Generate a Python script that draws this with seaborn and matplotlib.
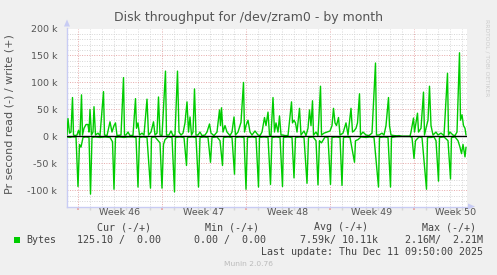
import numpy as np
import pandas as pd
import seaborn as sns
import matplotlib
matplotlib.use("Agg")
import matplotlib.pyplot as plt
from matplotlib.patches import Rectangle, Polygon
from matplotlib.ticker import FixedLocator
import matplotlib.transforms as mtransforms

# ---------------- data (hours since window start, values in k bytes/s) ----------------
write_hours = [0, 2, 5, 8, 11, 13, 16, 20, 23, 26, 29, 31, 34, 38, 42, 44, 46, 49, 52, 54, 57, 62, 66,
               73, 75, 80, 86, 90, 94, 97, 100, 104, 108, 113, 115, 118, 122, 126, 132, 137, 139, 142,
               145, 150, 154, 160, 163, 168, 173, 176, 180, 183, 186, 190, 197, 199, 204, 208, 212, 216,
               221, 224, 228, 232, 236, 240, 243, 246, 249, 252, 255, 258, 262, 266, 270, 276, 280, 285,
               288, 294, 300, 305, 307, 309, 312, 316, 320, 326, 330, 334, 337, 342, 348, 353, 355, 358,
               362, 366, 370, 376, 382, 386, 390, 395, 398, 402, 405, 408, 412, 415, 418, 422, 425, 428,
               432, 436, 442, 449, 451, 454, 457, 460, 465, 468, 474, 478, 482, 485, 488, 491, 493, 498,
               502, 507, 509, 514, 520, 526, 530, 533, 536, 539, 543, 546, 552, 558, 562, 568, 571, 574,
               578, 581, 585, 587, 592, 598, 604, 610, 617, 619, 624, 630, 634, 638, 643, 645, 648, 654,
               660, 664, 670, 678, 686, 688, 693, 695, 697, 701, 703, 708, 713, 715, 718, 722, 725, 728,
               732, 738, 742, 748, 754, 761, 763, 766, 772, 776, 780, 785, 787, 790, 793, 796, 798]
write_k = [2.5, 33, 6, 8, 72, 2.5, 1.5, 2.5, 11, 2, 77, 2.5, 15, 22, 22, 8, 50, 2.5, 8, 55, 2.5, 6, 1.5,
           83, 2.5, 1.5, 27, 8, 20, 25, 1.5, 2, 2.5, 109, 2.5, 2.5, 8, 1.5, 2, 70, 15, 25,
           2.5, 6, 2.5, 69, 2.5, 8, 27, 2.5, 6, 73, 2.5, 1.5, 121, 2.5, 2.5, 10, 1.5, 2.5,
           121, 8, 2.5, 6, 25, 64, 8, 36, 2.5, 8, 88, 2.5, 2.5, 8, 1.5, 2.5, 8, 23,
           6, 1.5, 8, 49, 20, 53, 8, 20, 8, 1.5, 8, 36, 2.5, 8, 26, 100, 8, 20,
           30, 8, 2.5, 10, 2.5, 1.5, 8, 35, 20, 45, 2.5, 1.5, 72, 8, 25, 8, 38, 2.5,
           2.5, 1.5, 1.5, 64, 25, 30, 25, 8, 52, 2.5, 10, 1.5, 15, 49, 20, 66, 2.5, 8,
           1.5, 93, 2.5, 6, 8, 10, 20, 52, 25, 20, 35, 2.5, 6, 25, 2.5, 52, 8, 10,
           15, 25, 79, 2.5, 8, 2.5, 1.5, 6, 136, 2.5, 2.5, 6, 2.5, 20, 72, 20, 2.5, 1.5,
           1, 1.5, 0, 0, 0, 8, 34, 8, 20, 43, 8, 15, 82, 2.5, 15, 30, 93, 20,
           2.5, 8, 2.5, 6, 1.5, 117, 2.5, 8, 2.5, 1.5, 8, 155, 30, 40, 20, 15, 2.5]

read_hours = [0, 6, 10, 18, 22, 25, 28, 32, 38, 44, 47, 50, 56, 66, 76, 86, 91, 94, 97, 104, 114, 122,
              132, 138, 142, 145, 152, 160, 167, 169, 176, 186, 190, 193, 196, 202, 210, 215, 217, 226,
              234, 239, 241, 250, 258, 263, 266, 274, 282, 287, 290, 300, 306, 311, 313, 322, 330, 335,
              337, 346, 354, 358, 361, 370, 378, 383, 385, 394, 402, 407, 410, 418, 426, 431, 433, 442,
              450, 454, 457, 466, 474, 480, 483, 492, 498, 502, 505, 509, 516, 522, 527, 530, 538, 546,
              550, 553, 560, 566, 575, 577, 582, 588, 598, 606, 614, 623, 625, 634, 642, 647, 649, 658,
              670, 686, 690, 694, 697, 704, 710, 719, 721, 728, 734, 738, 743, 745, 754, 762, 767, 769,
              776, 782, 786, 789, 792, 796, 798]
read_k = [1, 2, 1, 1, 93, 15, 20, 2, 1, 2, 107, 2, 1, 2, 1, 2, 10, 98, 2, 1, 2, 1,
          1, 2, 94, 2, 1, 2, 96, 2, 1, 12, 96, 15, 6, 1, 2, 103, 2, 1,
          2, 54, 2, 1, 2, 94, 2, 1, 2, 48, 2, 1, 8, 54, 2, 1, 2, 70,
          2, 1, 2, 98, 2, 1, 2, 94, 2, 1, 2, 89, 2, 1, 2, 93, 2, 1,
          2, 77, 2, 1, 2, 87, 2, 1, 8, 90, 8, 12, 1, 2, 89, 2, 1, 2,
          91, 2, 1, 2, 48, 8, 6, 1, 2, 1, 2, 94, 2, 1, 2, 94, 2, 0.5,
          0, 0, 2, 41, 8, 1, 2, 98, 2, 2, 1, 8, 83, 2, 1, 8, 79, 2,
          1, 8, 20, 32, 15, 38, 20]

week_labels = ["Week 46", "Week 47", "Week 48", "Week 49", "Week 50"]
week_starts = [21, 189, 357, 525, 693]
y_major = [-100, -50, 0, 50, 100, 150, 200]

legend_name = "Bytes"
legend_headers = ["Cur (-/+)", "Min (-/+)", "Avg (-/+)", "Max (-/+)"]
legend_values = ["125.10 /  0.00", "0.00 /  0.00", "7.59k/ 10.11k", "2.16M/  2.21M"]
last_update = "Last update: Thu Dec 11 09:50:00 2025"

# ---------------- figure ----------------
W, H = 497, 275
sns.set_theme(style="white")
plt.rcParams['font.family'] = ['DejaVu Sans']

BG = "#F0F0F0"
TXT = "#555555"
AXC = "#C8CCF4"
GREEN = "#00CC00"
MGRID = "#E6A8A8"
GRID = "#D6D6D6"

fig = plt.figure(figsize=(W / 100, H / 100), dpi=100, facecolor=BG)
L, R, T, B = 67, 467, 28.5, 206.5
ax = fig.add_axes([L / W, 1 - B / H, (R - L) / W, (B - T) / H])
ax.set_facecolor("white")

df_w = pd.DataFrame({"hour": write_hours, "value": write_k})
df_r = pd.DataFrame({"hour": read_hours, "value": [-v for v in read_k]})

sns.lineplot(data=df_w, x="hour", y="value", ax=ax, color=GREEN, lw=1.0,
             estimator=None, sort=True, zorder=3)
sns.lineplot(data=df_r, x="hour", y="value", ax=ax, color=GREEN, lw=1.0,
             estimator=None, sort=True, zorder=3)
ax.axhline(0, color="black", lw=1.0, zorder=4)

ax.set_xlim(0, 800)
ax.set_ylim(-130, 200)

# grid
ax.xaxis.set_major_locator(FixedLocator(week_starts))
day_lines = [h for h in range(week_starts[0] - 24 * 7, 800, 24) if h > 0 and h not in week_starts]
ax.xaxis.set_minor_locator(FixedLocator(day_lines))
ax.yaxis.set_major_locator(FixedLocator(y_major))
ax.yaxis.set_minor_locator(FixedLocator([v for v in range(-120, 201, 10) if v not in y_major]))
ax.grid(which="minor", color=GRID, lw=0.7, ls=(0, (1, 1.5)), zorder=1)
ax.grid(which="major", color=MGRID, lw=0.7, ls=(0, (1, 1.5)), zorder=1)
ax.set_axisbelow(True)

ax.set_xticklabels([])
ax.set_yticklabels([f"{v:g} k" for v in y_major])
ax.tick_params(axis="y", which="major", length=2, color=MGRID, labelsize=6.8,
               labelcolor=TXT, pad=5)
ax.tick_params(axis="y", which="minor", length=2, color=GRID)
ax.tick_params(axis="x", which="major", length=2, color=MGRID, bottom=True)
ax.tick_params(axis="x", which="minor", length=2, color=GRID, bottom=True)
ax.set_xlabel("")
ax.set_ylabel("")

for s in ["top", "right"]:
    ax.spines[s].set_visible(False)
for s in ["left", "bottom"]:
    ax.spines[s].set_color(AXC)
    ax.spines[s].set_linewidth(1.0)

# week labels centred within each week
trans = mtransforms.blended_transform_factory(ax.transData, fig.transFigure)
for ws, lab in zip(week_starts, week_labels):
    ax.text(ws + 84, 1 - 212.7 / H, lab, transform=trans, ha="center", va="center",
            fontsize=6.8, color=TXT)

# axis arrows
fig.patches.append(Polygon([[L / W - 3 / W, 1 - (T - 2) / H], [L / W + 3 / W, 1 - (T - 2) / H],
                            [L / W, 1 - (T - 9) / H]], closed=True, transform=fig.transFigure,
                           facecolor=AXC, edgecolor="none"))
fig.patches.append(Polygon([[(R + 1) / W, 1 - (B - 3) / H], [(R + 1) / W, 1 - (B + 3) / H],
                            [(R + 8) / W, 1 - B / H]], closed=True, transform=fig.transFigure,
                           facecolor=AXC, edgecolor="none"))

# title, y label, watermark
fig.text(248 / W, 1 - 18 / H, "Disk throughput for /dev/zram0 - by month", ha="center",
         va="center", fontsize=9, color=TXT)
fig.text(10 / W, 1 - 114 / H, "Pr second read (-) / write (+)", rotation=90, ha="center",
         va="center", fontsize=8, color=TXT)
fig.text(487 / W, 1 - 58 / H, "RRDTOOL / TOBI OETIKER", rotation=270, ha="center",
         va="center", fontsize=4.3, color="#CCCCCC")

# legend block
mono = dict(family="DejaVu Sans Mono", fontsize=7.2, color="#444444", va="center")
header_right = [151, 259, 367.7, 476]
value_right = [160.7, 265.7, 377.7, 482.7]
for x, h in zip(header_right, legend_headers):
    fig.text(x / W, 1 - 227.3 / H, h, ha="right", **mono)
fig.patches.append(Rectangle((14 / W, 1 - 243 / H), 6 / W, 6 / H, transform=fig.transFigure,
                             facecolor=GREEN, edgecolor="none"))
fig.text(26.7 / W, 1 - 239.7 / H, legend_name, ha="left", **mono)
for x, v in zip(value_right, legend_values):
    fig.text(x / W, 1 - 239.7 / H, v, ha="right", **mono)
fig.text(482.7 / W, 1 - 251.7 / H, last_update, ha="right", **mono)
fig.text(248 / W, 1 - 264 / H, "Munin 2.0.76", ha="center", va="center", fontsize=5.4,
         color="#BBBBBB")

fig.savefig("out.png", dpi=100, facecolor=BG)
